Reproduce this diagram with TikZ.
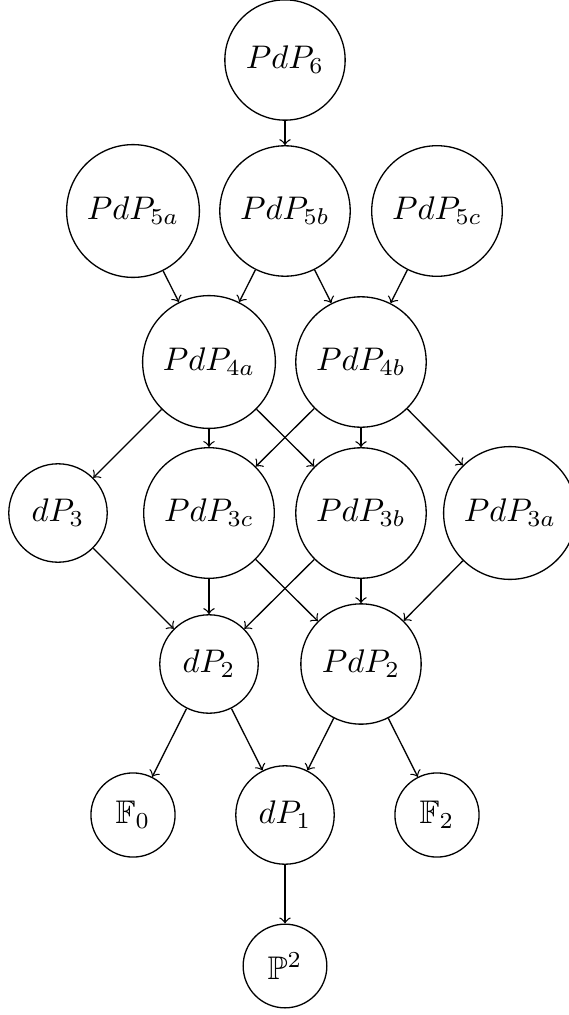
\documentclass[tikz,border=0pt]{standalone}
\usepackage{amssymb}
\begin{document}
\begin{tikzpicture}[x=0.3058pt,y=-0.3058pt,
  v/.style={circle,draw,inner sep=4.35pt,line width=0.4pt},
  e/.style={->,line width=0.4pt}]
\useasboundingbox (0,0) rectangle (569,1015);
\node[v] (p6)  at (285,60)  {$PdP_6$};
\node[v] (p5a) at (133,211) {$PdP_{5a}$};
\node[v] (p5b) at (285,211) {$PdP_{5b}$};
\node[v] (p5c) at (437,211) {$PdP_{5c}$};
\node[v] (p4a) at (209,362) {$PdP_{4a}$};
\node[v] (p4b) at (361,362) {$PdP_{4b}$};
\node[v] (d3)  at (58,513)  {$dP_3$};
\node[v] (p3c) at (209,513) {$PdP_{3c}$};
\node[v] (p3b) at (361,513) {$PdP_{3b}$};
\node[v] (p3a) at (510,513) {$PdP_{3a}$};
\node[v] (d2)  at (209,664) {$dP_2$};
\node[v] (p2)  at (361,664) {$PdP_2$};
\node[v] (f0)  at (133,815) {$\mathbb{F}_0$};
\node[v] (d1)  at (285,815) {$dP_1$};
\node[v] (f2)  at (437,815) {$\mathbb{F}_2$};
\node[v] (pp2) at (285,966) {$\mathbb{P}^2$};
\draw[e] (p6) -- (p5b);
\draw[e] (p5a) -- (p4a);
\draw[e] (p5b) -- (p4a);
\draw[e] (p5b) -- (p4b);
\draw[e] (p5c) -- (p4b);
\draw[e] (p4a) -- (d3);
\draw[e] (p4a) -- (p3c);
\draw[e] (p4a) -- (p3b);
\draw[e] (p4b) -- (p3c);
\draw[e] (p4b) -- (p3b);
\draw[e] (p4b) -- (p3a);
\draw[e] (d3) -- (d2);
\draw[e] (p3c) -- (d2);
\draw[e] (p3c) -- (p2);
\draw[e] (p3b) -- (d2);
\draw[e] (p3b) -- (p2);
\draw[e] (p3a) -- (p2);
\draw[e] (d2) -- (f0);
\draw[e] (d2) -- (d1);
\draw[e] (p2) -- (d1);
\draw[e] (p2) -- (f2);
\draw[e] (d1) -- (pp2);
\end{tikzpicture}
\end{document}
